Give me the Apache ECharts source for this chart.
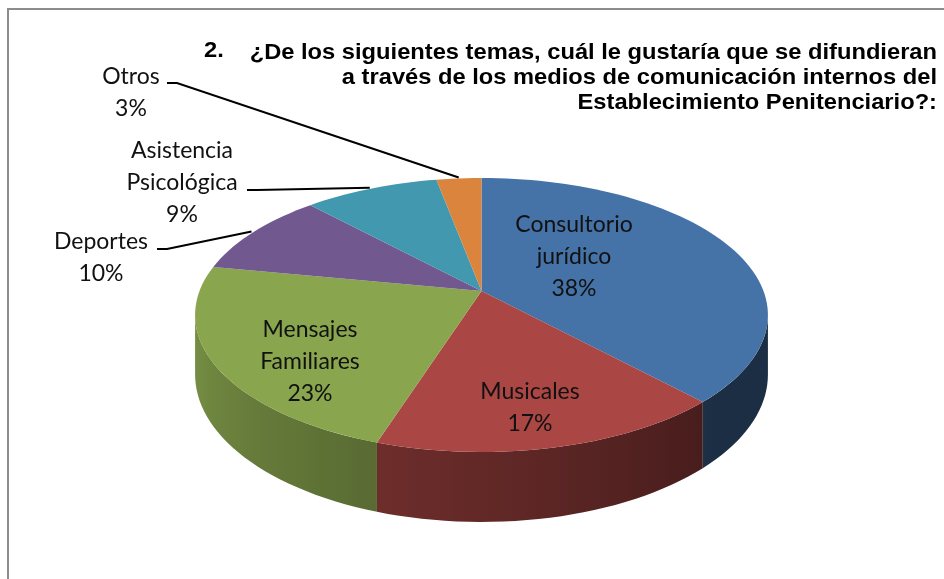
<!DOCTYPE html>
<html>
<head>
<meta charset="utf-8">
<title>Temas medios de comunicación</title>
<script src="https://cdn.jsdelivr.net/npm/echarts@6/dist/echarts.min.js"></script>
<style>
  html, body { margin: 0; padding: 0; background: #fff; }
  #chart { width: 944px; height: 579px; }
</style>
</head>
<body>
<div id="chart"></div>
<script>
// datos
var temas = ['Consultorio\njurídico', 'Musicales', 'Mensajes\nFamiliares', 'Deportes', 'Asistencia\nPsicológica', 'Otros'];
var porcentajes = [38, 17, 23, 10, 9, 3];
var numero = '2.';
var tituloLineas = [
	'¿De los siguientes temas, cuál le gustaría que se difundieran',
	'a través de los medios de comunicación internos del',
	'Establecimiento Penitenciario?:'
];

// estilo
var colores = ['#4572A7', '#AA4643', '#89A54E', '#71588F', '#4198AF', '#DB843D'];
var fuente = '23px Lato, "Noto Sans", sans-serif';
var fuenteTitulo = 'bold 22px "Liberation Sans", Arial, sans-serif';

// geometria del pastel 3D (perspectiva)
var CX = 481.5, AY = 291, A = 282, B = 132.8, U = 0.175, H = 57.75;
// etiquetas: centro del bloque y arranque de la guia (solo las de fuera)
var posEtiquetas = [
	{x: 574, y: 257},
	{x: 530, y: 408},
	{x: 310, y: 362},
	{x: 101, y: 258, lx: 157, ly: 249},
	{x: 182, y: 183, lx: 247, ly: 190},
	{x: 131, y: 93, lx: 167, ly: 83}
];

var total = porcentajes.reduce(function (a, b) { return a + b; }, 0);
var inicio = [], angulo = [];
var acum = 0;
for (var i = 0; i < porcentajes.length; i++) {
	inicio.push(acum / total * 360);
	angulo.push(porcentajes[i] / total * 360);
	acum += porcentajes[i];
}

function proj(theta, r) {
	var t = theta * Math.PI / 180;
	var d = 1 + U * r * Math.cos(t);
	return [CX + A * r * Math.sin(t) / d, AY - B * r * Math.cos(t) / d];
}
function caida(theta) {
	return H / (1 + U * Math.cos(theta * Math.PI / 180));
}
function sombra(hex, f) {
	var n = parseInt(hex.slice(1), 16);
	var r = Math.round(((n >> 16) & 255) * f), g = Math.round(((n >> 8) & 255) * f), b = Math.round((n & 255) * f);
	return 'rgb(' + r + ',' + g + ',' + b + ')';
}
function luz(theta) {
	return Math.max(0.4, 0.42 + 0.00374 * (theta - 137));
}

var limite = Math.acos(-U) * 180 / Math.PI; // borde visible izquierdo/derecho

function renderLado(params, api) {
	var i = params.dataIndex;
	var a0 = Math.max(inicio[i], limite);
	var a1 = Math.min(inicio[i] + angulo[i], 360 - limite);
	if (a1 <= a0) return null;
	var n = Math.max(2, Math.ceil((a1 - a0) / 2));
	var arriba = [], abajo = [];
	for (var k = 0; k <= n; k++) {
		var th = a0 + (a1 - a0) * k / n;
		var p = proj(th, 1);
		arriba.push(p);
		abajo.unshift([p[0], p[1] + caida(th)]);
	}
	var xs = arriba.map(function (p) { return p[0]; });
	var minx = Math.min.apply(null, xs), maxx = Math.max.apply(null, xs);
	var base = api.visual('color');
	var stops = [];
	for (var k = 0; k <= n; k++) {
		var th = a0 + (a1 - a0) * k / n;
		stops.push({offset: (arriba[k][0] - minx) / (maxx - minx), color: sombra(base, luz(th))});
	}
	stops.sort(function (a, b) { return a.offset - b.offset; });
	return {
		type: 'polygon',
		shape: {points: arriba.concat(abajo)},
		style: {fill: new echarts.graphic.LinearGradient(0, 0, 1, 0, stops)}
	};
}

function renderCara(params, api) {
	var i = params.dataIndex;
	var a0 = inicio[i], a1 = inicio[i] + angulo[i];
	var n = Math.max(2, Math.ceil(angulo[i] / 2));
	var pts = [proj(0, 0)];
	for (var k = 0; k <= n; k++) pts.push(proj(a0 + (a1 - a0) * k / n, 1));
	var hijos = [{
		type: 'polygon',
		shape: {points: pts},
		style: {fill: api.visual('color')}
	}];
	var pos = posEtiquetas[i];
	var pct = Math.round(porcentajes[i] / total * 100);
	hijos.push({
		type: 'text',
		z2: 100,
		style: {
			text: temas[i] + '\n' + pct + '%',
			x: pos.x, y: pos.y,
			textAlign: 'center', textVerticalAlign: 'middle',
			font: fuente, lineHeight: 32, fill: '#111'
		}
	});
	if (pos.lx !== undefined) {
		var fin = proj(a0 + angulo[i] / 2, 1.01);
		hijos.push({
			type: 'polyline',
			z2: 90,
			shape: {points: [[pos.lx, pos.ly], [pos.lx + 10, pos.ly], fin]},
			style: {stroke: '#000', lineWidth: 2, fill: null}
		});
	}
	return {type: 'group', children: hijos};
}

var datos = porcentajes.map(function (v, i) {
	return {value: v, itemStyle: {color: colores[i]}};
});

var chart = echarts.init(document.getElementById('chart'));
chart.setOption({
	animation: false,
	graphic: [
		{type: 'rect', shape: {x: 8, y: 9, width: 980, height: 620}, style: {fill: null, stroke: '#8c8c8c', lineWidth: 2}, z: 0},
		{type: 'text', x: 204, y: 40, scaleX: 1.077, style: {text: numero, x: 0, y: 0, textVerticalAlign: 'top', font: fuenteTitulo, fill: '#000'}},
		{type: 'text', x: 937, y: 40, scaleX: 1.077, style: {text: tituloLineas.join('\n'), x: 0, y: 0, textAlign: 'right', textVerticalAlign: 'top', font: fuenteTitulo, lineHeight: 25, fill: '#000'}}
	],
	series: [
		{type: 'custom', coordinateSystem: 'none', renderItem: renderLado, data: datos, z: 1, silent: true},
		{type: 'custom', coordinateSystem: 'none', renderItem: renderCara, data: datos, z: 2, silent: true}
	]
});
</script>
</body>
</html>
